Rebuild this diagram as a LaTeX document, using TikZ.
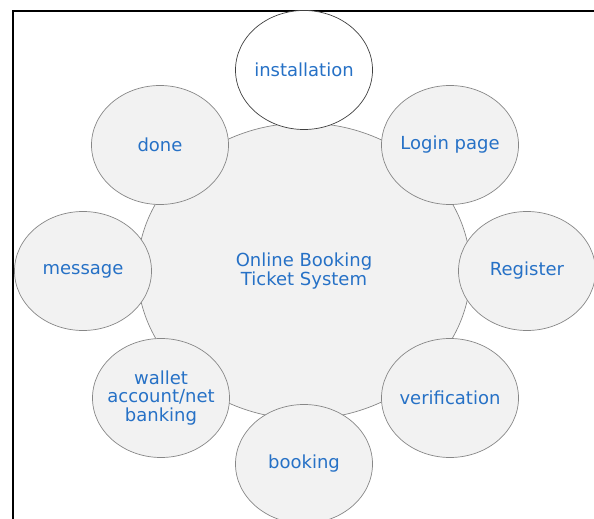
\documentclass[tikz,border=0pt]{standalone}
\usepackage{fontspec}
\setmainfont{DejaVu Sans}
\usetikzlibrary{shapes.geometric, positioning}
\definecolor{bubblefill}{RGB}{242,242,242}
\definecolor{bubbleline}{RGB}{135,135,135}
\definecolor{labelblue}{RGB}{38,113,198}
\tikzset{node distance = 2cm, on grid,
         every label/.style = {text = labelblue, align = center,
           font = \fontsize{18}{18.5}\selectfont},
         topic/.style = {ellipse, draw = bubbleline, fill = bubblefill,
           line width = 0.7pt, inner sep = 0pt,
           minimum width = 137pt, minimum height = 119pt},
         hub/.style = {topic, minimum width = 333pt, minimum height = 296pt,
           text = labelblue, align = center,
           font = \fontsize{18}{18.5}\selectfont}}

\begin{document}
\begin{tikzpicture}[x = 1pt, y = 1pt]
  \useasboundingbox (0,0) rectangle (594,519);
  \draw[line width = 2.5pt] (13,-5) |- (600,508);

  \node[hub]                                          (hub)          at (304,248) {Online Booking\\ Ticket System};
  \node[topic, fill = white, draw = black!75,
        label = center:installation]             (install)      [above = 201pt of hub]                {};
  \node[topic, label = center:Login page]         (login)        [above right = 126pt and 146pt of hub] {};
  \node[topic, label = center:Register]           (register)     [right = 223pt of hub]                {};
  \node[topic, label = center:verification]       (verify)       [below right = 127pt and 146pt of hub] {};
  \node[topic, label = center:booking]            (booking)      [below = 193pt of hub]                {};
  \node[topic, label = {center:wallet\\ account/net\\ banking}]
                                                      (wallet)       [below left = 127pt and 143pt of hub]  {};
  \node[topic, label = center:message]            (message)      [left = 221pt of hub]                 {};
  \node[topic, label = center:done]               (done)         [above left = 126pt and 144pt of hub]  {};
\end{tikzpicture}
\end{document}
